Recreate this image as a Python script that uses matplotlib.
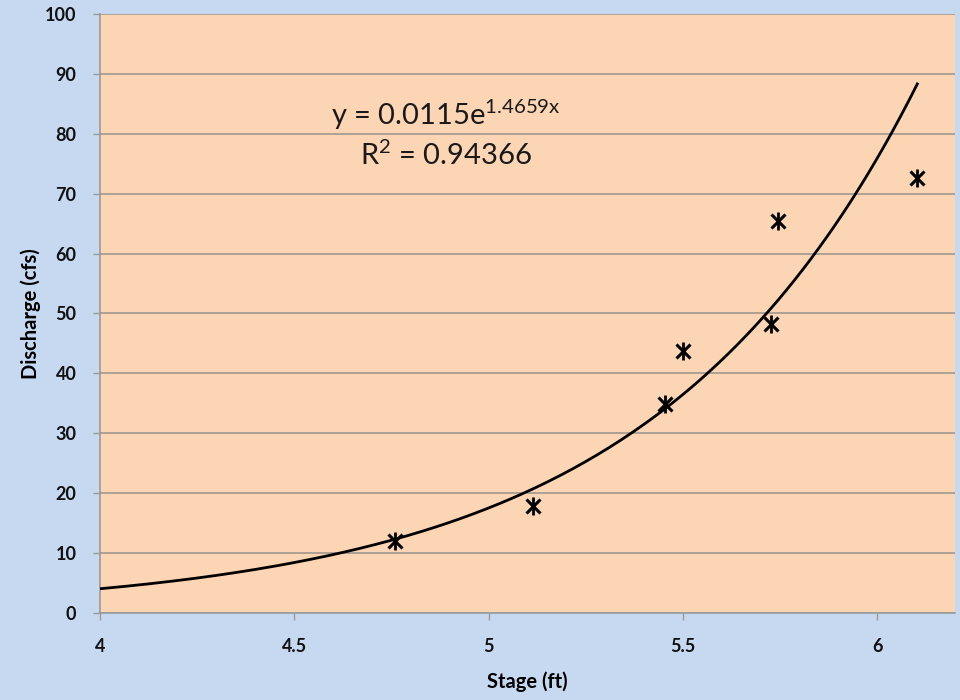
import numpy as np
import matplotlib.pyplot as plt

# =========================
# DATA
# =========================
stage = [4.76, 5.115, 5.455, 5.50, 5.727, 5.745, 6.103]
discharge = [12.0, 17.9, 34.9, 43.7, 48.2, 65.4, 72.7]

# exponential trendline y = a * e^(b x)
fit_a = 0.0115
fit_b = 1.4659
fit_r2 = 0.94366
fit_start = 4.0
fit_end = 6.103

x_ticks = [4, 4.5, 5, 5.5, 6]
x_labels = ["4", "4.5", "5", "5.5", "6"]
y_ticks = list(range(0, 101, 10))

# =========================
# STYLE
# =========================
plt.rcParams['font.family'] = ['Lato', 'DejaVu Sans']
bg_blue = "#c6d9f1"
plot_peach = "#fcd5b5"
grid_col = "#a89c92"

fig = plt.figure(figsize=(9.6, 7), dpi=100, facecolor=bg_blue)
ax = fig.add_axes([0.1042, 0.1243, 0.8906, 0.8557])
ax.set_facecolor(plot_peach)

# trendline
xs = np.linspace(fit_start, fit_end, 200)
ax.plot(xs, fit_a * np.exp(fit_b * xs), color="black", lw=2, zorder=3)

# points: excel style star = x + vertical bar
ax.plot(stage, discharge, linestyle="none", marker="x", markersize=10,
        markeredgewidth=2.2, color="black", zorder=4)
ax.plot(stage, discharge, linestyle="none", marker="|", markersize=13,
        markeredgewidth=2.0, color="black", zorder=4)

ax.set_xlim(4, 6.2)
ax.set_ylim(0, 100)
ax.set_xticks(x_ticks)
ax.set_xticklabels(x_labels)
ax.set_yticks(y_ticks)

ax.grid(axis="y", color=grid_col, lw=1.3)
ax.set_axisbelow(True)
for side in ["top", "right"]:
    ax.spines[side].set_visible(False)
for side in ["left", "bottom"]:
    ax.spines[side].set_color("#9a9a9a")
    ax.spines[side].set_linewidth(1.2)

ax.tick_params(axis="both", colors="#9a9a9a", length=5, width=1,
               labelcolor="#111111", labelsize=13)
ax.tick_params(axis="x", pad=13)
ax.tick_params(axis="y", pad=12)
for lbl in ax.get_xticklabels() + ax.get_yticklabels():
    lbl.set_fontweight("bold")

ax.set_xlabel("Stage (ft)", fontsize=14.5, fontweight="bold", labelpad=12)
ax.set_ylabel("Discharge (cfs)", fontsize=14.5, fontweight="bold", labelpad=3)

# equation text
ax.text(4.89, 83.2, "y = 0.0115e$^{\\mathregular{1.4659x}}$",
        fontsize=21, ha="center", va="center", color="#1a1a1a")
ax.text(4.89, 76.5, "R$^{\\mathregular{2}}$ = %.5f" % fit_r2,
        fontsize=21, ha="center", va="center", color="#1a1a1a")

fig.savefig("out.png", dpi=100, facecolor=bg_blue)
